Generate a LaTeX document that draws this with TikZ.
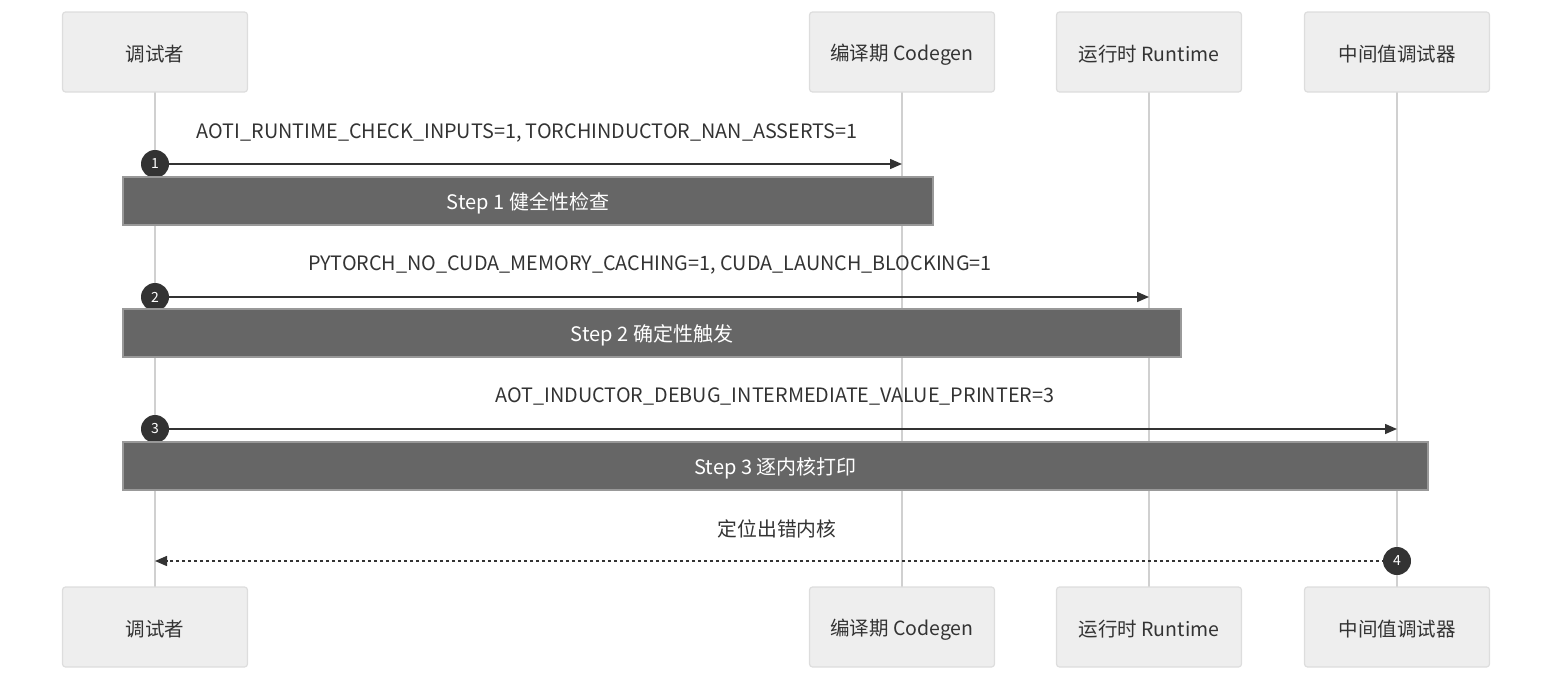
\documentclass[tikz,border=0pt]{standalone}
\usepackage{fontspec}
\setmainfont{Noto Sans CJK SC}
\usetikzlibrary{arrows.meta}
\definecolor{txt}{HTML}{333333}
\definecolor{actfill}{HTML}{EEEEEE}
\definecolor{actdraw}{HTML}{DDDDDD}
\definecolor{life}{HTML}{D0D0D0}
\definecolor{notefill}{HTML}{666666}
\definecolor{notedraw}{HTML}{999999}
\tikzset{
  actor/.style={draw=actdraw, fill=actfill, line width=1.2pt, rounded corners=3pt, minimum width=185pt, minimum height=80pt, inner sep=0pt, text=txt},
  acttxt/.style={font=\fontsize{19.5}{21}\selectfont, text=txt, inner sep=0pt},
  lifeline/.style={draw=life, line width=2.2pt},
  msg/.style={draw=txt, line width=1.5pt, -{Triangle[length=12pt,width=10pt]}},
  msgd/.style={draw=txt, line width=1.5pt, dash pattern=on 3pt off 3pt, -{Triangle[length=12pt,width=10pt]}},
  lbl/.style={font=\fontsize{19.8}{21}\selectfont, text=txt, inner sep=0pt},
  num/.style={circle, fill=txt, text=white, minimum size=28pt, inner sep=0pt, font=\fontsize{14}{15}\selectfont},
  notebox/.style={draw=notedraw, fill=notefill, line width=1.2pt, inner sep=0pt},
  notetxt/.style={font=\fontsize{20}{21}\selectfont, text=white, inner sep=0pt},
}
\begin{document}
\begin{tikzpicture}[x=1pt,y=-1pt]
\useasboundingbox (0,0) rectangle (1568,688);
% lifelines
\coordinate (t1) at (155,92); \coordinate (b1) at (155,587);
\coordinate (t2) at (902,92); \coordinate (b2) at (902,587);
\coordinate (t3) at (1149,92); \coordinate (b3) at (1149,587);
\coordinate (t4) at (1397,92); \coordinate (b4) at (1397,587);
\draw[lifeline] (t1) -- (b1);
\draw[lifeline] (t2) -- (b2);
\draw[lifeline] (t3) -- (b3);
\draw[lifeline] (t4) -- (b4);
% actors
\node[actor] (a1) at (155,52) {};
\node[actor] (a2) at (902,52) {};
\node[actor] (a3) at (1149,52) {};
\node[actor] (a4) at (1397,52) {};
\node[actor] (c1) at (155,627) {};
\node[actor] (c2) at (902,627) {};
\node[actor] (c3) at (1149,627) {};
\node[actor] (c4) at (1397,627) {};
\node[acttxt] (a1t) at (155,54.5) {调试者};
\node[acttxt] (a2t) at (902,54.5) {编译期 Codegen};
\node[acttxt] (a3t) at (1149,54.5) {运行时 Runtime};
\node[acttxt] (a4t) at (1397,54.5) {中间值调试器};
\node[acttxt] (c1t) at (155,629.5) {调试者};
\node[acttxt] (c2t) at (902,629.5) {编译期 Codegen};
\node[acttxt] (c3t) at (1149,629.5) {运行时 Runtime};
\node[acttxt] (c4t) at (1397,629.5) {中间值调试器};
% message 1
\node[lbl] (l1) at (527,132.5) {AOTI\_RUNTIME\_CHECK\_INPUTS=1, TORCHINDUCTOR\_NAN\_ASSERTS=1};
\coordinate (m1s) at (155,164); \coordinate (m1e) at (902,164);
\draw[msg] (m1s) -- (m1e);
\node[num] (n1) at (m1s) {1};
\node[notebox, minimum width=810pt, minimum height=48pt] (s1) at (528,201) {};
\node[notetxt] (s1t) at (528,203.5) {Step 1 健全性检查};
% message 2
\node[lbl] (l2) at (650,264.5) {PYTORCH\_NO\_CUDA\_MEMORY\_CACHING=1, CUDA\_LAUNCH\_BLOCKING=1};
\coordinate (m2s) at (155,297); \coordinate (m2e) at (1149,297);
\draw[msg] (m2s) -- (m2e);
\node[num] (n2) at (m2s) {2};
\node[notebox, minimum width=1058pt, minimum height=48pt] (s2) at (652,333) {};
\node[notetxt] (s2t) at (652,335.5) {Step 2 确定性触发};
% message 3
\node[lbl] (l3) at (775,396.5) {AOT\_INDUCTOR\_DEBUG\_INTERMEDIATE\_VALUE\_PRINTER=3};
\coordinate (m3s) at (155,429); \coordinate (m3e) at (1397,429);
\draw[msg] (m3s) -- (m3e);
\node[num] (n3) at (m3s) {3};
\node[notebox, minimum width=1305pt, minimum height=48pt] (s3) at (775.5,466) {};
\node[notetxt] (s3t) at (775.5,468.5) {Step 3 逐内核打印};
% message 4
\node[lbl] (l4) at (777,528.5) {定位出错内核};
\coordinate (m4s) at (1397,561); \coordinate (m4e) at (155,561);
\draw[msgd] (m4s) -- (m4e);
\node[num] (n4) at (m4s) {4};
\end{tikzpicture}
\end{document}
